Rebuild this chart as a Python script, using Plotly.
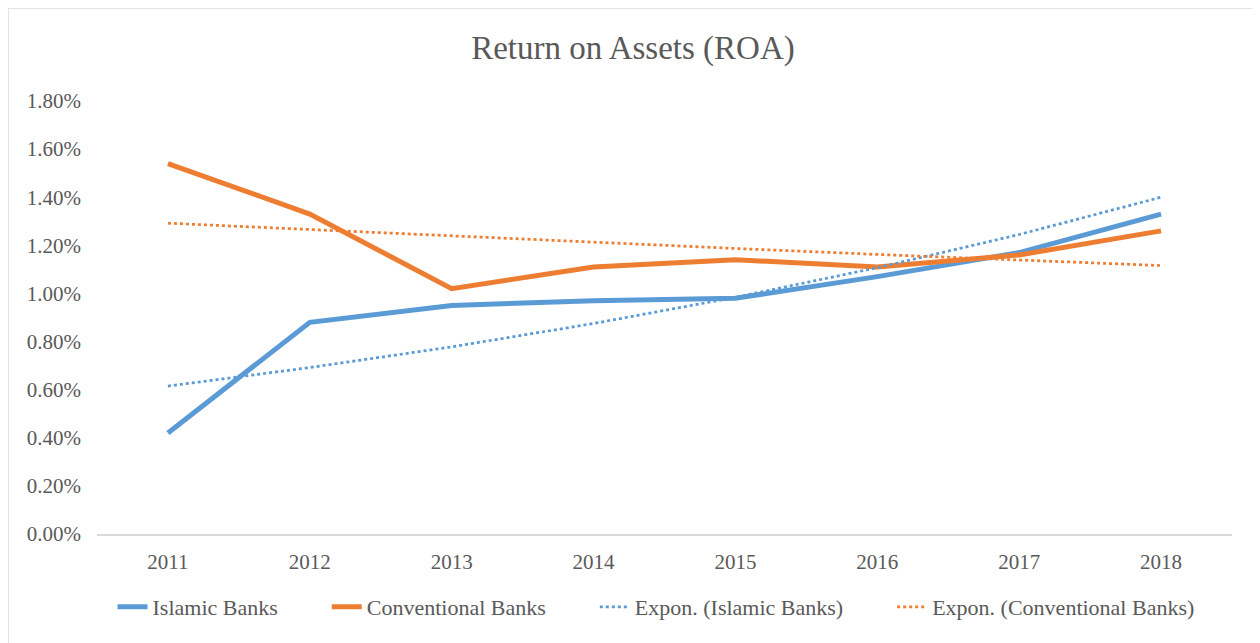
import plotly.graph_objects as go

years = ["2011", "2012", "2013", "2014", "2015", "2016", "2017", "2018"]
islamic = [0.42, 0.88, 0.95, 0.97, 0.98, 1.07, 1.17, 1.33]
conventional = [1.54, 1.33, 1.02, 1.11, 1.14, 1.11, 1.16, 1.26]
trend_islamic = [0.615, 0.692, 0.778, 0.875, 0.984, 1.107, 1.245, 1.40]
trend_conventional = [1.292, 1.265, 1.238, 1.212, 1.187, 1.162, 1.139, 1.116]
names = ["Islamic Banks", "Conventional Banks", "Expon. (Islamic Banks)", "Expon. (Conventional Banks)"]

BLUE = "#5B9BD5"
ORANGE = "#ED7D31"
TXT = "#595959"
FONT = "Liberation Serif"
PAD = "\u00a0" * 8

fig = go.Figure()
fig.add_trace(go.Scatter(x=years, y=islamic, mode="lines", name=names[0] + PAD,
                         line=dict(color=BLUE, width=5)))
fig.add_trace(go.Scatter(x=years, y=conventional, mode="lines", name=names[1] + PAD,
                         line=dict(color=ORANGE, width=5)))
fig.add_trace(go.Scatter(x=years, y=trend_islamic, mode="lines", name=names[2] + PAD,
                         line=dict(color=BLUE, width=2.75, dash="dot")))
fig.add_trace(go.Scatter(x=years, y=trend_conventional, mode="lines", name=names[3],
                         line=dict(color=ORANGE, width=2.75, dash="dot")))

OFF = 8  # page body margin
W, H = 1260 - OFF, 643 - OFF
L, T = 97 - OFF, 101 - OFF
R, B = 1260 - 1232, 643 - 534
pw, ph = W - L - R, H - T - B

fig.update_layout(
    width=W, height=H,
    margin=dict(l=L, r=R, t=T, b=B),
    paper_bgcolor="white", plot_bgcolor="white",
    font=dict(family=FONT, color=TXT, size=21),
    title=dict(text="Return on Assets (ROA)", x=(633 - OFF) / W, xanchor="center",
               y=1 - (47 - OFF) / H, yanchor="middle",
               font=dict(family=FONT, size=33, color=TXT)),
    showlegend=True,
    legend=dict(orientation="h", x=(656 - 97) / pw, xanchor="center",
                y=(534 - 607) / ph, yanchor="middle",
                font=dict(family=FONT, size=22, color=TXT)),
    xaxis=dict(type="category", range=[-0.5, len(years) - 0.5], showgrid=False,
               showline=True, linecolor="#D9D9D9", linewidth=1.5, ticks="",
               ticklabelstandoff=8, tickfont=dict(size=21, color=TXT)),
    yaxis=dict(range=[0, 1.8], dtick=0.2, tickformat=".2f", ticksuffix="%",
               showgrid=False, showline=False, zeroline=False, ticks="",
               ticklabelstandoff=15, tickfont=dict(size=21, color=TXT)),
    shapes=[dict(type="rect", xref="paper", yref="paper",
                 x0=(8 - 97) / pw, x1=(1258 - 97) / pw,
                 y0=(534 - 660) / ph, y1=(534 - 8) / ph,
                 line=dict(color="#D9D9D9", width=1.5), fillcolor="rgba(0,0,0,0)", layer="below")],
)

fig.write_html("out.html")
